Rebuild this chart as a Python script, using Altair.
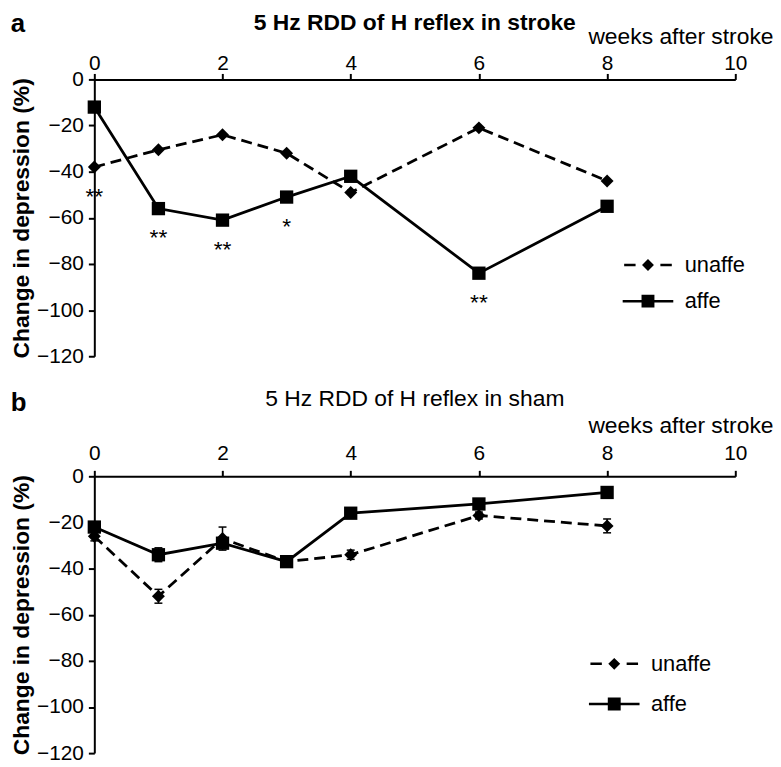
import altair as alt
import pandas as pd

# ---------------- data ----------------
weeks = [0, 1, 2, 3, 4, 6, 8]
series = ["unaffe", "affe"]

stroke_unaffe = [-38, -30.5, -24, -32, -49, -21, -44]
stroke_affe = [-12, -56, -61, -51, -42, -84, -55]
stroke_sig_weeks = [0, 1, 2, 3, 6]
stroke_sig_marks = ["**", "**", "**", "*", "**"]

sham_unaffe = [-26, -52, -27, -37, -34, -17, -21.5]
sham_affe = [-22, -34, -29, -37, -16, -12, -7]
sham_unaffe_sem = [2, 3, 5, 1.5, 2, 1.5, 3]
sham_affe_sem = [1.5, 3, 2, 1.5, 1.5, 2, 1]

x_ticks = [0, 2, 4, 6, 8, 10]
y_ticks = [0, -20, -40, -60, -80, -100, -120]

FONT = "Liberation Sans"
W, H = 646, 279

# legend symbols: line + marker drawn as one filled custom path
PATH_UNAFFE = ("M-2.4,-0.13H-1.25V0.13H-2.4Z"
               "M1.25,-0.13H2.4V0.13H1.25Z"
               "M0,-0.6L0.6,0L0,0.6L-0.6,0Z")
PATH_AFFE = "M-2.55,-0.13H2.55V0.13H-2.55Z M-0.65,-0.65H0.65V0.65H-0.65Z"


def long_df(unaff, aff, unaff_err=None, aff_err=None):
    rows = []
    for i, w in enumerate(weeks):
        rows.append(dict(week=w, series="unaffe", value=unaff[i],
                         err=unaff_err[i] if unaff_err else 0.0))
        rows.append(dict(week=w, series="affe", value=aff[i],
                         err=aff_err[i] if aff_err else 0.0))
    df = pd.DataFrame(rows)
    df["lo"] = df["value"] - df["err"]
    df["hi"] = df["value"] + df["err"]
    return df


def panel(df, title_text, title_weight, title_dy, letter, letter_dy,
          xtitle_y, label_pad, legend_x, legend_y, row_pad,
          sig_df=None, errors=False):
    xscale = alt.Scale(domain=[0, 10], nice=False)
    yscale = alt.Scale(domain=[-120, 0], nice=False)
    x_axis = alt.Axis(orient="top", values=x_ticks, grid=False,
                      title="weeks after stroke", titleFontSize=23,
                      titleFontWeight="normal", titleAlign="right",
                      titleX=W + 38, titleY=xtitle_y,
                      titleBaseline="alphabetic", labelPadding=label_pad,
                      labelFlush=False, labelOverlap=False)
    y_axis = alt.Axis(values=y_ticks, grid=False,
                      title="Change in depression (%)", titleFontSize=23,
                      titleFontWeight="bold", titlePadding=3,
                      labelPadding=5, labelFlush=False, labelOverlap=False)
    X = alt.X("week:Q", scale=xscale, axis=x_axis)
    Y = alt.Y("value:Q", scale=yscale, axis=y_axis)

    base = alt.Chart(df)
    unaff = base.transform_filter(alt.datum.series == "unaffe")
    aff = base.transform_filter(alt.datum.series == "affe")

    layers = [
        unaff.mark_line(color="black", strokeWidth=2.8,
                        strokeDash=[11, 6]).encode(x=X, y=Y),
        aff.mark_line(color="black", strokeWidth=2.8).encode(x=X, y=Y),
    ]
    if errors:
        Ylo = alt.Y("lo:Q", scale=yscale, axis=y_axis)
        Yhi = alt.Y("hi:Q", scale=yscale, axis=y_axis)
        layers += [
            base.mark_rule(color="black", strokeWidth=1.5).encode(
                x=X, y=Ylo, y2="hi:Q"),
            base.mark_point(shape="stroke", size=64, color="black",
                            strokeWidth=1.5, opacity=1).encode(x=X, y=Ylo),
            base.mark_point(shape="stroke", size=64, color="black",
                            strokeWidth=1.5, opacity=1).encode(x=X, y=Yhi),
        ]
    layers += [
        unaff.mark_point(shape="diamond", filled=True, color="black",
                         size=170, opacity=1).encode(x=X, y=Y),
        aff.mark_point(shape="square", filled=True, color="black",
                       size=180, opacity=1).encode(x=X, y=Y),
    ]
    if sig_df is not None:
        layers.append(
            alt.Chart(sig_df).mark_text(font=FONT, fontSize=23, dy=37,
                                        baseline="alphabetic",
                                        color="black").encode(
                x=X, y=Y, text="mark:N"))
    legend_layer = (
        alt.Chart(pd.DataFrame({"series": series}))
        .transform_filter("false")
        .mark_point(filled=True, color="black", opacity=1)
        .encode(shape=alt.Shape(
            "series:N",
            scale=alt.Scale(domain=series, range=[PATH_UNAFFE, PATH_AFFE]),
            legend=alt.Legend(title=None, orient="none", legendX=legend_x,
                              legendY=legend_y, labelFont=FONT,
                              labelFontSize=22, labelColor="black",
                              symbolSize=400, symbolStrokeWidth=0,
                              symbolFillColor="black", symbolOpacity=1,
                              labelOffset=26, rowPadding=row_pad,
                              padding=0)))
    )
    layers.append(legend_layer)

    chart = alt.layer(*layers).properties(
        width=W, height=H,
        title=alt.TitleParams(title_text, anchor="middle", frame="group",
                              font=FONT, fontSize=23,
                              fontWeight=title_weight, color="black",
                              baseline="alphabetic", offset=0, dy=title_dy))
    return alt.vconcat(chart, title=alt.TitleParams(
        letter, anchor="start", frame="bounds", font=FONT, fontSize=26,
        fontWeight="bold", color="black", baseline="alphabetic",
        offset=0, dy=letter_dy))


df_a = long_df(stroke_unaffe, stroke_affe)
sig_a = pd.DataFrame({
    "week": stroke_sig_weeks,
    "mark": stroke_sig_marks,
    "value": [min(stroke_unaffe[weeks.index(w)], stroke_affe[weeks.index(w)])
              for w in stroke_sig_weeks],
})
df_b = long_df(sham_unaffe, sham_affe, sham_unaffe_sem, sham_affe_sem)

panel_a = panel(df_a, "5 Hz RDD of H reflex in stroke", "bold", 27,
                "a", 46, -36, 0, 547, 176, 14.5, sig_df=sig_a)
panel_b = panel(df_b, "5 Hz RDD of H reflex in sham", "normal", 14,
                "b", 49, -44, 7, 513, 178, 18.5, errors=True)

chart = (
    alt.vconcat(panel_a, panel_b, spacing=22)
    .resolve_scale(shape="independent")
    .resolve_legend(shape="independent")
    .properties(padding={"left": 2, "top": 0, "right": 0, "bottom": 0})
    .configure_view(stroke=None)
    .configure_axis(domainColor="black", domainWidth=2, tickColor="black",
                    tickWidth=2, tickSize=6, labelFont=FONT,
                    labelFontSize=21, labelColor="black", titleFont=FONT,
                    titleColor="black")
)

chart.save("out.html", embed_options={"renderer": "svg", "actions": False})
